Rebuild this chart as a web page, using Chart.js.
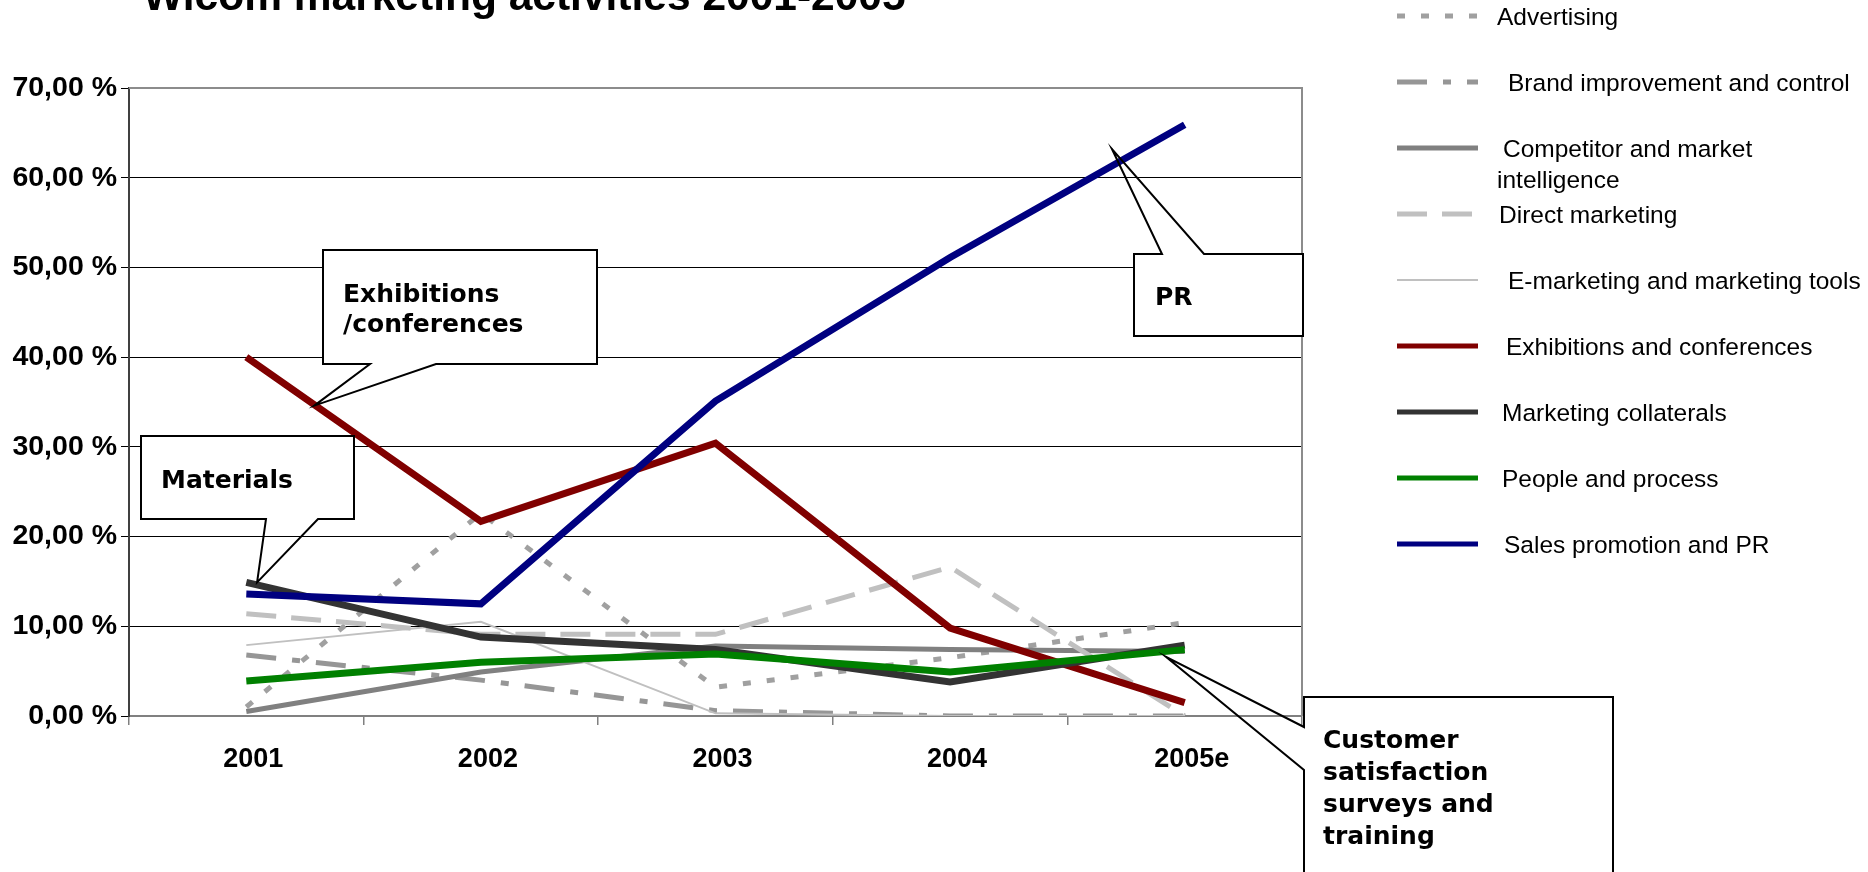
<!DOCTYPE html>
<html>
<head>
<meta charset="utf-8">
<title>Wicom marketing activities 2001-2005</title>
<script src="https://cdn.jsdelivr.net/npm/chart.js@4/dist/chart.umd.min.js"></script>
<style>
    html, body { margin: 0; padding: 0; background: #fff; }
    canvas { display: block; }
</style>
</head>
<body>
<canvas id="myChart" width="1868" height="872"></canvas>
<script>
// share of marketing spend per activity, in %
var years = ['2001', '2002', '2003', '2004', '2005e'];
var advertising = [1.0, 22.6, 3.2, 6.5, 10.4];
var brandImprovement = [6.8, 4.0, 0.6, 0, 0];
var competitorIntel = [0.5, 4.9, 7.8, 7.4, 7.2];
var directMarketing = [11.4, 9.1, 9.1, 16.6, 0];
var eMarketing = [7.9, 10.5, 0.3, 0, 0];
var exhibitions = [40.0, 21.7, 30.4, 9.8, 1.5];
var collaterals = [14.9, 8.8, 7.4, 3.8, 7.9];
var peopleProcess = [3.9, 6.0, 6.9, 4.9, 7.4];
var salesPromotion = [13.6, 12.5, 35.1, 51.1, 65.9];
var yTicks = [0, 10, 20, 30, 40, 50, 60, 70];

var seriesNames = [
    'Advertising',
    'Brand improvement and control',
    ['Competitor and market', 'intelligence'],
    'Direct marketing',
    'E-marketing and marketing tools',
    'Exhibitions and conferences',
    'Marketing collaterals',
    'People and process',
    'Sales promotion and PR'
];

var FONT = '"Liberation Sans", Arial, sans-serif';
var CALLOUT_FONT = 'bold 25px "DejaVu Sans", Verdana, sans-serif';

function series(i, data, color, width, dash) {
    return {
        label: Array.isArray(seriesNames[i]) ? seriesNames[i].join(' ') : seriesNames[i],
        legendLines: Array.isArray(seriesNames[i]) ? seriesNames[i] : [seriesNames[i]],
        data: data,
        borderColor: color,
        backgroundColor: color,
        borderWidth: width,
        borderDash: dash || [],
        borderCapStyle: 'butt',
        borderJoinStyle: 'miter',
        pointRadius: 0,
        tension: 0,
        fill: false,
        order: 9 - i
    };
}

// callout boxes; tip is [category index, value]
var callouts = [
    { box: [323, 250, 597, 364], side: 'bottom', base: [370, 436], tip: [0.29, 34.6],
      lines: ['Exhibitions', '/conferences'], tx: 343, ty: [302, 332] },
    { box: [141, 436, 354, 519], side: 'bottom', base: [266, 318], tip: [0.046, 14.9],
      lines: ['Materials'], tx: 161, ty: [488] },
    { box: [1134, 254, 1303, 336], side: 'top', base: [1162, 1204], tip: [3.69, 63.2],
      lines: ['PR'], tx: 1155, ty: [305] },
    { box: [1304, 697, 1613, 910], side: 'left', base: [727, 770], tip: [3.92, 6.6],
      lines: ['Customer', 'satisfaction', 'surveys and', 'training'], tx: 1323, ty: [748, 780, 812, 844] }
];

var legendTextX = [1497, 1508, 1503, 1499, 1508, 1506, 1502, 1502, 1504];

const titlePlugin = {
    id: 'topTitle',
    afterDraw(chart) {
        const { ctx } = chart;
        ctx.save();
        ctx.font = 'bold 42.5px ' + FONT;
        ctx.fillStyle = '#000';
        ctx.textBaseline = 'alphabetic';
        ctx.fillText('Wicom marketing activities 2001-2005', 143, 10);
        ctx.restore();
    }
};

// gray frame on top and right of the plot
const plotFrame = {
    id: 'plotFrame',
    beforeDatasetsDraw(chart) {
        const { ctx, chartArea } = chart;
        ctx.save();
        ctx.strokeStyle = '#8c8c8c';
        ctx.lineWidth = 2;
        ctx.beginPath();
        ctx.moveTo(chartArea.left, chartArea.top);
        ctx.lineTo(chartArea.right, chartArea.top);
        ctx.lineTo(chartArea.right, chartArea.bottom);
        ctx.stroke();
        ctx.restore();
    }
};

const calloutPlugin = {
    id: 'callouts',
    afterDatasetsDraw(chart) {
        const { ctx } = chart;
        var xs = chart.scales.x, ys = chart.scales.y;
        ctx.save();
        callouts.forEach(function (c) {
            var l = c.box[0], t = c.box[1], r = c.box[2], b = c.box[3];
            var px = xs.getPixelForValue(c.tip[0]);
            var py = ys.getPixelForValue(c.tip[1]);
            ctx.fillStyle = '#fff';
            ctx.fillRect(l, t, r - l, b - t);
            ctx.strokeStyle = '#000';
            ctx.lineWidth = 2;
            ctx.lineJoin = 'miter';
            ctx.beginPath();
            if (c.side == 'bottom') {
                ctx.moveTo(c.base[0], b);
                ctx.lineTo(l, b); ctx.lineTo(l, t); ctx.lineTo(r, t); ctx.lineTo(r, b);
                ctx.lineTo(c.base[1], b);
                ctx.lineTo(px, py);
                ctx.closePath();
            } else if (c.side == 'top') {
                ctx.moveTo(c.base[1], t);
                ctx.lineTo(r, t); ctx.lineTo(r, b); ctx.lineTo(l, b); ctx.lineTo(l, t);
                ctx.lineTo(c.base[0], t);
                ctx.lineTo(px, py);
                ctx.closePath();
            } else {
                ctx.moveTo(l, c.base[0]);
                ctx.lineTo(l, t); ctx.lineTo(r, t); ctx.lineTo(r, b); ctx.lineTo(l, b);
                ctx.lineTo(l, c.base[1]);
                ctx.lineTo(px, py);
                ctx.closePath();
            }
            ctx.stroke();
            ctx.fillStyle = '#000';
            ctx.font = CALLOUT_FONT;
            ctx.textBaseline = 'alphabetic';
            c.lines.forEach(function (txt, k) {
                ctx.fillText(txt, c.tx, c.ty[k]);
            });
        });
        ctx.restore();
    }
};

// legend at the right, sample line + label per series
const sideLegend = {
    id: 'sideLegend',
    afterDraw(chart) {
        const { ctx } = chart;
        ctx.save();
        ctx.font = '24.5px ' + FONT;
        ctx.fillStyle = '#000';
        ctx.textBaseline = 'middle';
        chart.data.datasets.forEach(function (ds, i) {
            var y = 16 + i * 66;
            ctx.strokeStyle = ds.borderColor;
            ctx.lineWidth = Math.min(ds.borderWidth, 5);
            ctx.setLineDash(ds.borderDash);
            ctx.lineCap = 'butt';
            ctx.beginPath();
            ctx.moveTo(1397, y);
            ctx.lineTo(1478, y);
            ctx.stroke();
            ctx.setLineDash([]);
            ds.legendLines.forEach(function (txt, k) {
                ctx.fillText(txt, k == 0 ? legendTextX[i] : 1497, y + 2 + k * 31);
            });
        });
        ctx.restore();
    }
};

const ctx = document.getElementById('myChart');

new Chart(ctx, {
    type: 'line',
    data: {
        labels: years,
        datasets: [
            series(0, advertising, '#a0a0a0', 5, [8, 16]),
            series(1, brandImprovement, '#969696', 5, [30, 16, 8, 16]),
            series(2, competitorIntel, '#808080', 5),
            series(3, directMarketing, '#c0c0c0', 5, [30, 15]),
            series(4, eMarketing, '#c0c0c0', 2),
            series(5, exhibitions, '#800000', 7),
            series(6, collaterals, '#333333', 7),
            series(7, peopleProcess, '#008000', 7),
            series(8, salesPromotion, '#000080', 7)
        ]
    },
    options: {
        responsive: false,
        animation: false,
        layout: {
            padding: { top: 88, right: 566, left: 0, bottom: 0 }
        },
        plugins: {
            legend: { display: false },
            title: { display: false },
            tooltip: { enabled: false }
        },
        scales: {
            x: {
                offset: true,
                afterFit: function (scale) { scale.height = 156; },
                grid: {
                    offset: true,
                    drawOnChartArea: false,
                    drawTicks: true,
                    tickLength: 9,
                    color: '#808080',
                    lineWidth: 1.5
                },
                border: { color: '#808080', width: 2 },
                ticks: {
                    color: '#000',
                    padding: 18,
                    labelOffset: 7,
                    font: { family: FONT, size: 27, weight: 'bold' }
                }
            },
            y: {
                min: yTicks[0],
                max: yTicks[yTicks.length - 1],
                afterFit: function (scale) { scale.width = 129; },
                afterBuildTicks: function (scale) {
                    scale.ticks = yTicks.map(function (v) { return { value: v }; });
                },
                grid: {
                    color: '#000',
                    lineWidth: 1,
                    tickLength: 8
                },
                border: { color: '#404040', width: 2 },
                ticks: {
                    color: '#000',
                    padding: 4,
                    font: { family: FONT, size: 28.5, weight: 'bold' },
                    callback: function (v) {
                        return v.toFixed(2).replace('.', ',') + ' %';
                    }
                }
            }
        }
    },
    plugins: [plotFrame, calloutPlugin, sideLegend, titlePlugin]
});
</script>
</body>
</html>
